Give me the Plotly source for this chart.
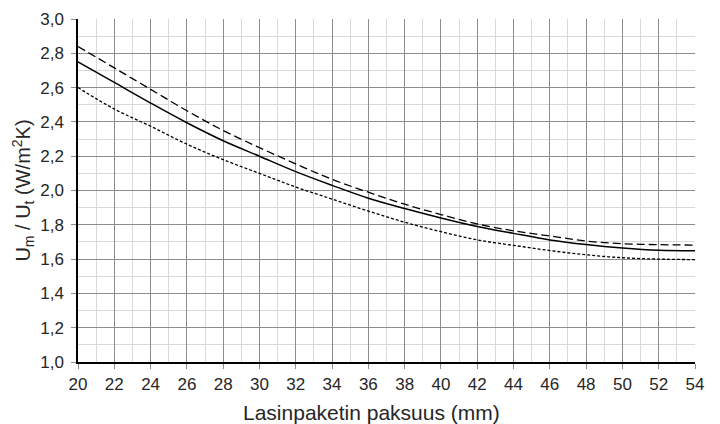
import plotly.graph_objects as go

thickness_mm = [20, 22, 24, 26, 28, 30, 32, 34, 36, 38, 40, 42, 44, 46, 48, 50, 52, 54]
u_solid = [2.75, 2.63, 2.51, 2.395, 2.29, 2.20, 2.11, 2.03, 1.955, 1.895, 1.84, 1.79, 1.75, 1.712, 1.685, 1.665, 1.652, 1.649]
u_dashed = [2.84, 2.715, 2.59, 2.465, 2.35, 2.25, 2.155, 2.065, 1.99, 1.92, 1.86, 1.805, 1.765, 1.735, 1.705, 1.69, 1.684, 1.682]
u_dotted = [2.60, 2.475, 2.375, 2.27, 2.18, 2.10, 2.02, 1.95, 1.88, 1.815, 1.76, 1.712, 1.68, 1.65, 1.625, 1.608, 1.600, 1.597]

x_ticks = list(range(20, 55, 2))
y_ticks = [1.0, 1.2, 1.4, 1.6, 1.8, 2.0, 2.2, 2.4, 2.6, 2.8, 3.0]
x_title = "Lasinpaketin paksuus (mm)"
y_title = "U<sub>m</sub> / U<sub>t</sub> (W/m<sup>2</sup>K)"

fig = go.Figure()
fig.add_trace(go.Scatter(x=thickness_mm, y=u_dashed, mode="lines",
                         line=dict(color="black", width=1.3, dash="8px,4px", shape="spline")))
fig.add_trace(go.Scatter(x=thickness_mm, y=u_solid, mode="lines",
                         line=dict(color="black", width=1.5, shape="spline")))
fig.add_trace(go.Scatter(x=thickness_mm, y=u_dotted, mode="lines",
                         line=dict(color="black", width=1.3, dash="3px,2px", shape="spline")))

font_family = "Liberation Sans, Arial, sans-serif"
fig.update_layout(
    width=720, height=424,
    margin=dict(l=70, r=33, t=11, b=70, autoexpand=False),
    paper_bgcolor="white", plot_bgcolor="white",
    showlegend=False,
    separators=", ",
    font=dict(family=font_family, color="#262626", size=17),
)
fig.update_xaxes(
    range=[20, 54], tickvals=x_ticks, automargin=False,
    showgrid=True, gridcolor="#8c8c8c", gridwidth=1,
    minor=dict(dtick=1, tick0=20, showgrid=True, gridcolor="#d9d9d9", gridwidth=1),
    showline=True, linecolor="black", linewidth=1.5,
    ticks="outside", ticklen=5, tickcolor="#8c8c8c",
    tickfont=dict(size=17), zeroline=False, ticklabelstandoff=1,
)
fig.update_yaxes(
    range=[1.0, 3.0], tickvals=y_ticks, tickformat=".1f", automargin=False,
    showgrid=True, gridcolor="#8c8c8c", gridwidth=1,
    minor=dict(dtick=0.1, tick0=1.0, showgrid=True, gridcolor="#d9d9d9", gridwidth=1),
    showline=True, linecolor="black", linewidth=1.5,
    ticks="outside", ticklen=5, tickcolor="#8c8c8c",
    tickfont=dict(size=17), zeroline=False, ticklabelstandoff=4,
    title=dict(text=y_title, font=dict(size=20), standoff=4),
)
fig.add_annotation(text=x_title, xref="paper", yref="paper", x=0.476, y=-0.148,
                   xanchor="center", yanchor="middle", showarrow=False,
                   font=dict(size=21, color="#262626"))

fig.write_html("out.html")
